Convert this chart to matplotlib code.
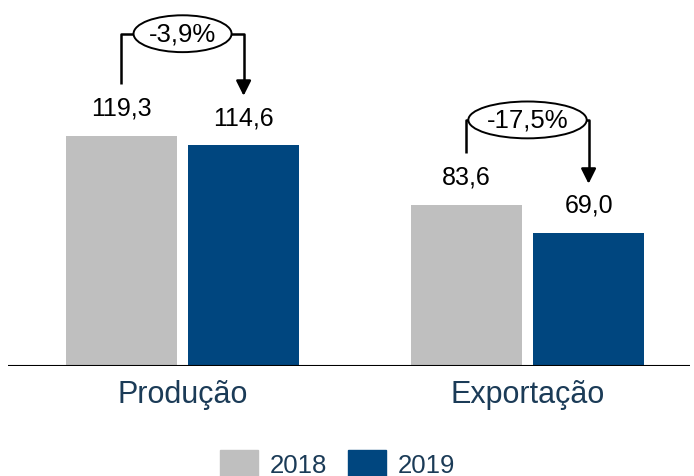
import numpy as np
import matplotlib.pyplot as plt
from matplotlib.patches import Patch

plt.rcParams['font.family'] = ['Liberation Sans', 'DejaVu Sans']

categories = ['Produção', 'Exportação']
years = ['2018', '2019']
values_2018 = [119.3, 83.6]
values_2019 = [114.6, 69.0]

# layout
col_2018 = '#bfbfbf'
col_2019 = '#00467f'
txt_col = '#1b3b57'
bw = 0.322
off = 0.177
bracket_top = [53, 44]  # height of bracket above the 2018 bar

fig = plt.figure(figsize=(6.94, 4.77), dpi=100)
ax = fig.add_axes([8 / 694, 110 / 477, 682 / 694, 367 / 477])

x = np.arange(len(categories))
ax.bar(x - off, values_2018, width=bw, color=col_2018)
ax.bar(x + off, values_2019, width=bw, color=col_2019)

for i in range(len(categories)):
    v0, v1 = values_2018[i], values_2019[i]
    ax.text(x[i] - off, v0 + 14.5, f'{v0:.1f}'.replace('.', ','), ha='center', va='center', fontsize=18)
    ax.text(x[i] + off, v1 + 14.5, f'{v1:.1f}'.replace('.', ','), ha='center', va='center', fontsize=18)

    # bracket with change
    top = v0 + bracket_top[i]
    ax.plot([x[i] - off, x[i] - off, x[i] + off, x[i] + off], [v0 + 27, top, top, v1 + 30],
            color='black', lw=1.8, solid_capstyle='butt', zorder=3)
    ax.annotate('', xy=(x[i] + off, v1 + 25.5), xytext=(x[i] + off, v1 + 32),
                arrowprops=dict(arrowstyle='-|>,head_length=0.9,head_width=0.45', color='black', lw=1.8,
                                shrinkA=0, shrinkB=0), zorder=4)
    pct = (v1 / v0 - 1) * 100
    ax.text(x[i], top, f'{pct:.1f}%'.replace('.', ','), ha='center', va='center', fontsize=18.5, zorder=5,
            bbox=dict(boxstyle='ellipse,pad=0.04', fc='white', ec='black', lw=1.4))

ax.axhline(0, color='black', lw=1.5)
ax.set_xlim(-0.506, 1.471)
ax.set_ylim(0, 190.3)
ax.set_xticks(x)
ax.set_xticklabels(categories, fontsize=22, color=txt_col)
ax.tick_params(axis='x', length=0, pad=9.5)
ax.set_yticks([])
for s in ax.spines.values():
    s.set_visible(False)

handles = [Patch(color=col_2018), Patch(color=col_2019)]
leg = fig.legend(handles, years, loc='lower center', bbox_to_anchor=(0.486, -0.028), ncol=2, frameon=False,
                 fontsize=18.5, handlelength=1.5, handleheight=1.15, columnspacing=0.8, handletextpad=0.45,
                 borderpad=0)
for t in leg.get_texts():
    t.set_color(txt_col)

fig.savefig('out.png', dpi=100)
